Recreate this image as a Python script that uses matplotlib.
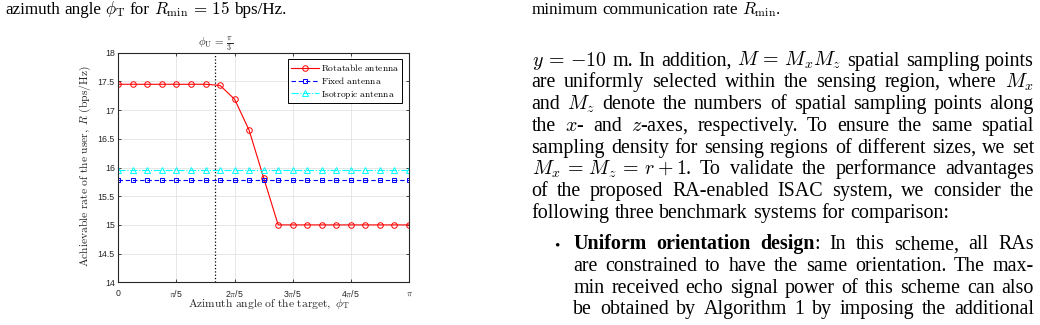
import numpy as np
import matplotlib
matplotlib.use('Agg')
import matplotlib.pyplot as plt

# ---------------- data ----------------
phi_T = np.linspace(0, np.pi, 21)
rate_rotatable = [17.45, 17.45, 17.45, 17.45, 17.45, 17.45, 17.45, 17.43, 17.19, 16.65,
                  15.82, 15.0, 15.0, 15.0, 15.0, 15.0, 15.0, 15.0, 15.0, 15.0, 15.0]
rate_fixed = [15.78] * 21
rate_isotropic = [15.95] * 21
phi_U = np.pi / 3
series_labels = [r'$\mathrm{Rotatable\ antenna}$', r'$\mathrm{Fixed\ antenna}$',
                 r'$\mathrm{Isotropic\ antenna}$']
xtick_vals = [0, np.pi / 5, 2 * np.pi / 5, 3 * np.pi / 5, 4 * np.pi / 5, np.pi]
xtick_labels = ['0', r'$\pi$/5', r'2$\pi$/5', r'3$\pi$/5', r'4$\pi$/5', r'$\pi$']
ytick_vals = [14, 14.5, 15, 15.5, 16, 16.5, 17, 17.5, 18]
ytick_labels = ['14', '14.5', '15', '15.5', '16', '16.5', '17', '17.5', '18']

caption_left = r'azimuth angle $\phi_\mathrm{T}$ for $R_\mathrm{min}\,=\,15$ bps/Hz.'
caption_right = r'minimum communication rate $R_\mathrm{min}$.'
body_lines = [
    r'$y\,=\,{-10}$ m. In addition, $M\,=\,M_xM_z$ spatial sampling points',
    r'are uniformly selected within the sensing region, where $M_x$',
    r'and $M_z$ denote the numbers of spatial sampling points along',
    r'the $x$- and $z$-axes, respectively. To ensure the same spatial',
    r'sampling density for sensing regions of different sizes, we set',
    r'$M_x\,=\,M_z\,=\,r+1$. To validate the performance advantages',
    r'of the proposed RA-enabled ISAC system, we consider the',
    r'following three benchmark systems for comparison:',
    r'*Uniform* *orientation* *design*: In this scheme, all RAs',
    r'are constrained to have the same orientation. The max-',
    r'min received echo signal power of this scheme can also',
    r'be obtained by Algorithm 1 by imposing the additional',
]

# ---------------- figure ----------------
plt.rcParams['mathtext.fontset'] = 'cm'
W, H = 1040, 325
fig = plt.figure(figsize=(W / 100, H / 100), dpi=100)
fig.patch.set_facecolor('white')

def fx(x):
    return x / W

def fy(y):
    return 1 - y / H

axL, axR, axT, axB = 118.3, 409.0, 52.7, 282.3
ax = fig.add_axes([fx(axL), fy(axB), (axR - axL) / W, (axB - axT) / H])

ax.plot(phi_T, rate_rotatable, color='red', lw=0.8, marker='o', ms=4.0,
        mfc='none', mew=0.7, label=series_labels[0])
ax.plot(phi_T, rate_fixed, color='blue', lw=0.8, ls=(0, (4, 2.5)), marker='s', ms=3.2,
        mfc='none', mew=0.7, label=series_labels[1])
ax.plot(phi_T, rate_isotropic, color='cyan', lw=0.8, ls='-.', marker='^', ms=4.0,
        mfc='none', mew=0.7, label=series_labels[2])
ax.axvline(phi_U, color='black', ls=':', lw=0.9)

ax.set_xlim(0, np.pi)
ax.set_ylim(14, 18)
ax.set_xticks(xtick_vals)
ax.set_xticklabels(xtick_labels)
ax.set_yticks(ytick_vals)
ax.set_yticklabels(ytick_labels)
ax.grid(True, color='#e3e3e3', lw=0.6)
ax.set_axisbelow(True)
ax.tick_params(direction='in', length=2.5, width=0.6, top=True, right=True,
               labelsize=6.3, colors='#262626')
ax.tick_params(axis='x', pad=4.5)
ax.tick_params(axis='y', pad=2.5)
for lbl in ax.get_xticklabels() + ax.get_yticklabels():
    lbl.set_fontfamily('Liberation Sans')
for s in ax.spines.values():
    s.set_color('#262626')
    s.set_linewidth(0.8)

leg = ax.legend(loc='upper right', bbox_to_anchor=(fx(402), fy(59)),
                bbox_transform=fig.transFigure, borderaxespad=0, fontsize=6.8,
                fancybox=False, framealpha=1, edgecolor='black', handlelength=3.0,
                handletextpad=0.2, labelspacing=0.25, borderpad=0.3)
leg.get_frame().set_linewidth(0.7)

fig.text(fx(269), fy(304.5), r'$\mathrm{Azimuth\ angle\ of\ the\ target,}\ \phi_\mathrm{T}$',
         fontsize=8.3, ha='center', va='center', color='#262626')
fig.text(fx(85), fy(166), r'$\mathrm{Achievable\ rate\ of\ the\ user,}\ R\ \mathrm{(bps/Hz)}$',
         fontsize=8.3, ha='center', va='center', rotation=90, color='#262626')
ax.annotate(r'$\phi_\mathrm{U}\,=\,\frac{\pi}{3}$', xy=(phi_U, fy(44)),
            xycoords=('data', 'figure fraction'), ha='center', va='center',
            fontsize=8, color='#262626', annotation_clip=False)

# ---------------- paper text ----------------
renderer = fig.canvas.get_renderer()
SERIF = 'Liberation Serif'

def measure(s, fs, weight='normal'):
    t = fig.text(0, 0, s, fontsize=fs, fontweight=weight, family=SERIF)
    w = t.get_window_extent(renderer=renderer).width
    t.remove()
    return w

def fit_fs(s, target):
    return 10 * target / measure(s, 10)

def pieces_of(tok):
    if tok.startswith('*'):
        end = tok.index('*', 1)
        out = [(tok[1:end], 'bold')]
        if tok[end + 1:]:
            out.append((tok[end + 1:], 'normal'))
        return out
    return [(tok, 'normal')]

def draw_line(text, x0, x1, ybase, fs, justify=True):
    toks = text.split(' ')
    words = []
    total = 0.0
    for tok in toks:
        ps = []
        for s, wgt in pieces_of(tok):
            w = measure(s, fs, wgt)
            ps.append((s, wgt, w))
            total += w
        words.append(ps)
    if justify and len(words) > 1:
        gap = (x1 - x0 - total) / (len(words) - 1)
    else:
        gap = measure('x x', fs) - measure('xx', fs)
    x = x0
    for ps in words:
        for s, wgt, w in ps:
            fig.text(fx(x), fy(ybase), s, fontsize=fs, fontweight=wgt, family=SERIF,
                     ha='left', va='baseline', color='black')
            x += w
        x += gap

fs_cap = fit_fs(caption_left, 281)
draw_line(caption_left, 5, 286, 14, fs_cap, justify=False)
draw_line(caption_right, 531.5, 822, 14, fs_cap, justify=False)

fs_body = fit_fs(body_lines[7], 416)
baselines = [65.7, 87.4, 109.2, 130.9, 152.6, 174.3, 196.0, 217.7, 249.3, 271.0, 292.7, 314.4]
for i, (line, yb) in enumerate(zip(body_lines, baselines)):
    if i < 8:
        draw_line(line, 531.5, 1034, yb, fs_body, justify=(i != 7))
    else:
        draw_line(line, 573.3, 1034, yb, fs_body, justify=True)
fig.text(fx(554), fy(249.3), '\u2022', fontsize=fs_body * 0.75, family=SERIF,
         ha='left', va='baseline')

fig.savefig('out.png', dpi=100)
